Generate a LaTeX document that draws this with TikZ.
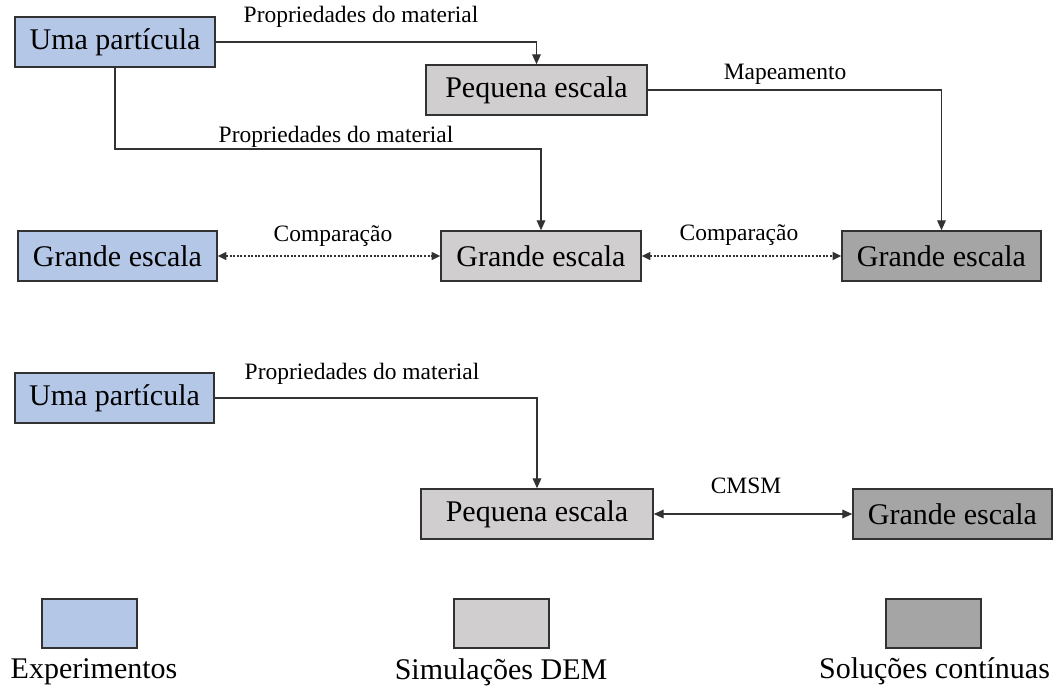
\documentclass[tikz,border=0pt]{standalone}
\usepackage{fontspec}
\setmainfont{Liberation Serif}
\usetikzlibrary{arrows.meta}

\definecolor{expblue}{RGB}{180,199,231}
\definecolor{demgray}{RGB}{208,206,206}
\definecolor{contgray}{RGB}{165,165,165}
\definecolor{linegray}{RGB}{50,50,50}

\begin{document}
\begin{tikzpicture}[x=0.75pt,y=-0.75pt,
  box/.style={draw=linegray, line width=1.1pt, minimum height=37.5pt, inner sep=0pt, font=\fontsize{22.5}{24}\selectfont},
  legbox/.style={draw=linegray, line width=1.1pt, minimum width=71.25pt, minimum height=36.75pt, inner sep=0pt},
  lbl/.style={inner sep=0pt, font=\fontsize{17.6}{19}\selectfont},
  legtxt/.style={inner sep=0pt, font=\fontsize{22.5}{24}\selectfont},
  conn/.style={draw=linegray, line width=1pt, -{Triangle[length=7.5pt,width=6.5pt]}},
  cmp/.style={draw=linegray, line width=1pt, dash pattern=on 1.5pt off 1.2pt, {Triangle[length=6.5pt,width=6pt]}-{Triangle[length=6.5pt,width=6pt]}}]

  \useasboundingbox (0,0) rectangle (1057,689);

  % upper scheme
  \node[box, fill=expblue, minimum width=150pt] (UmaA) at (115,42) {Uma partícula};
  \node[box, fill=demgray, minimum width=165.75pt] (PequenaA) at (536.5,90) {Pequena escala};
  \node[box, fill=expblue, minimum width=149.25pt] (GrandeExp) at (117.5,256) {Grande escala};
  \node[box, fill=demgray, minimum width=150pt] (GrandeDem) at (541,256) {Grande escala};
  \node[box, fill=contgray, minimum width=149.25pt] (GrandeCont) at (941.5,256) {Grande escala};

  \draw[conn] (UmaA.east) -| (PequenaA.north);
  \draw[conn] (PequenaA.east) -| (GrandeCont.north);
  \coordinate (bendA) at (115,149);
  \draw[conn] (UmaA.south) -- (bendA) -| (GrandeDem.north);
  \draw[cmp] (GrandeExp.east) -- (GrandeDem.west);
  \draw[cmp] (GrandeDem.east) -- (GrandeCont.west);

  \node[lbl] (PropA) at (361,17) {Propriedades do material};
  \node[lbl] (Mapa) at (785,74) {Mapeamento};
  \node[lbl] (PropB) at (336,137) {Propriedades do material};
  \node[lbl] (CompA) at (333,236) {Comparação};
  \node[lbl] (CompB) at (739,235) {Comparação};

  % lower scheme
  \node[box, fill=expblue, minimum width=149.25pt] (UmaB) at (114.5,398) {Uma partícula};
  \node[box, fill=demgray, minimum width=174pt] (PequenaB) at (537,514) {Pequena escala};
  \node[box, fill=contgray, minimum width=149.25pt] (GrandeB) at (952.5,514) {Grande escala};

  \draw[conn] (UmaB.east) -| (PequenaB.north);
  \draw[conn, {Triangle[length=7.5pt,width=6.5pt]}-{Triangle[length=7.5pt,width=6.5pt]}] (PequenaB.east) -- (GrandeB.west);

  \node[lbl] (PropC) at (362,374) {Propriedades do material};
  \node[lbl] (Cmsm) at (746,486) {CMSM};

  % legend
  \node[legbox, fill=expblue] (LegExp) at (89.5,623.5) {};
  \node[legbox, fill=demgray] (LegDem) at (501.5,623.5) {};
  \node[legbox, fill=contgray] (LegCont) at (933.5,623.5) {};
  \node[legtxt] (TxtExp) at (94,672) {Experimentos};
  \node[legtxt] (TxtDem) at (501,672) {Simulações DEM};
  \node[legtxt] (TxtCont) at (934.5,671) {Soluções contínuas};

\end{tikzpicture}
\end{document}
